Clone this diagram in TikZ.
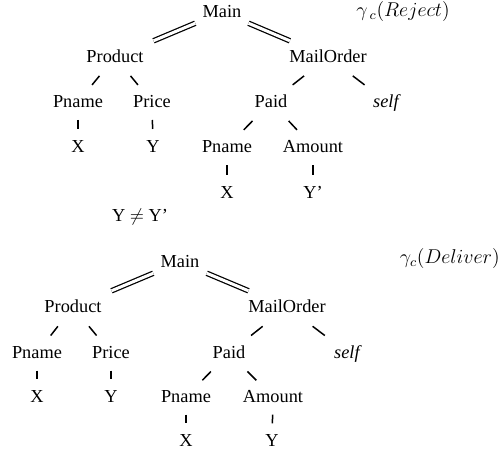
\documentclass[tikz,border=0pt]{standalone}
\usepackage{fontspec}
\setmainfont{Liberation Serif}
\usetikzlibrary{calc}
\begin{document}
\begin{tikzpicture}[x=0.6pt, y=-0.6pt,
      word/.style={inner sep=0pt, text height=0.66em, text depth=0pt, font=\fontsize{11}{13}\selectfont},
      tag/.style={inner sep=0pt, font=\fontsize{12}{14}\selectfont},
      link/.style={line width=0.9pt},
      dlink/.style={line width=0.75pt, double, double distance=1.8pt}]
      \useasboundingbox (0,0) rectangle (501,455);
      % upper tree: Reject
      \node[word] (mainA) at (222,12) {Main};
      \node[tag] (rejA) at (403,12) {$\gamma_{\:c}(Reject)$};
      \node[word] (prodA) at (115,57) {Product};
      \node[word] (mailA) at (328,57) {MailOrder};
      \node[word] (pnA) at (78,102) {Pname};
      \node[word] (priceA) at (152,102) {Price};
      \node[word] (paidA) at (271,102) {Paid};
      \node[word] (selfA) at (387,102) {\textit{self}};
      \node[word] (xA) at (78,147) {X};
      \node[word] (yA) at (153,147) {Y};
      \node[word] (pnpA) at (227,147) {Pname};
      \node[word] (amtA) at (313,147) {Amount};
      \node[word] (xpA) at (227,193) {X};
      \node[word] (ypA) at (313,193) {Y'};
      \node[word] (neqA) at (140,216) {Y $\neq$ Y'};
      % lower tree: Deliver
      \node[word] (mainB) at (180,262) {Main};
      \node[tag, anchor=east] (delB) at (500,259) {$\gamma_c(Deliver)$};
      \node[word] (prodB) at (73,307) {Product};
      \node[word] (mailB) at (287,307) {MailOrder};
      \node[word] (pnB) at (37,353) {Pname};
      \node[word] (priceB) at (111,353) {Price};
      \node[word] (paidB) at (229,353) {Paid};
      \node[word] (selfB) at (348,353) {\textit{self}};
      \node[word] (xB) at (37,397) {X};
      \node[word] (yB) at (111,397) {Y};
      \node[word] (pnpB) at (186,397) {Pname};
      \node[word] (amtB) at (273,397) {Amount};
      \node[word] (xpB) at (186,441) {X};
      \node[word] (ypB) at (272,441) {Y};
      % connectors
      \foreach \a/\b in {mainA/prodA, mainA/mailA, mainB/prodB, mainB/mailB}
        \draw[dlink] ($(\a)!.25!(\b)$) -- ($(\a)!.64!(\b)$);
      \foreach \a/\b in {prodA/pnA, prodA/priceA, mailA/paidA, mailA/selfA, paidA/pnpA, paidA/amtA,
          prodB/pnB, prodB/priceB, mailB/paidB, mailB/selfB, paidB/pnpB, paidB/amtB}
        \draw[link] ($(\a)!.42!(\b)$) -- ($(\a)!.62!(\b)$);
      \foreach \a/\b in {pnA/xA, priceA/yA, pnpA/xpA, amtA/ypA, pnB/xB, priceB/yB, pnpB/xpB, amtB/ypB}
        \draw[link] ($(\a)!.4!(\b)$) -- ($(\a)!.6!(\b)$);
    \end{tikzpicture}
\end{document}
